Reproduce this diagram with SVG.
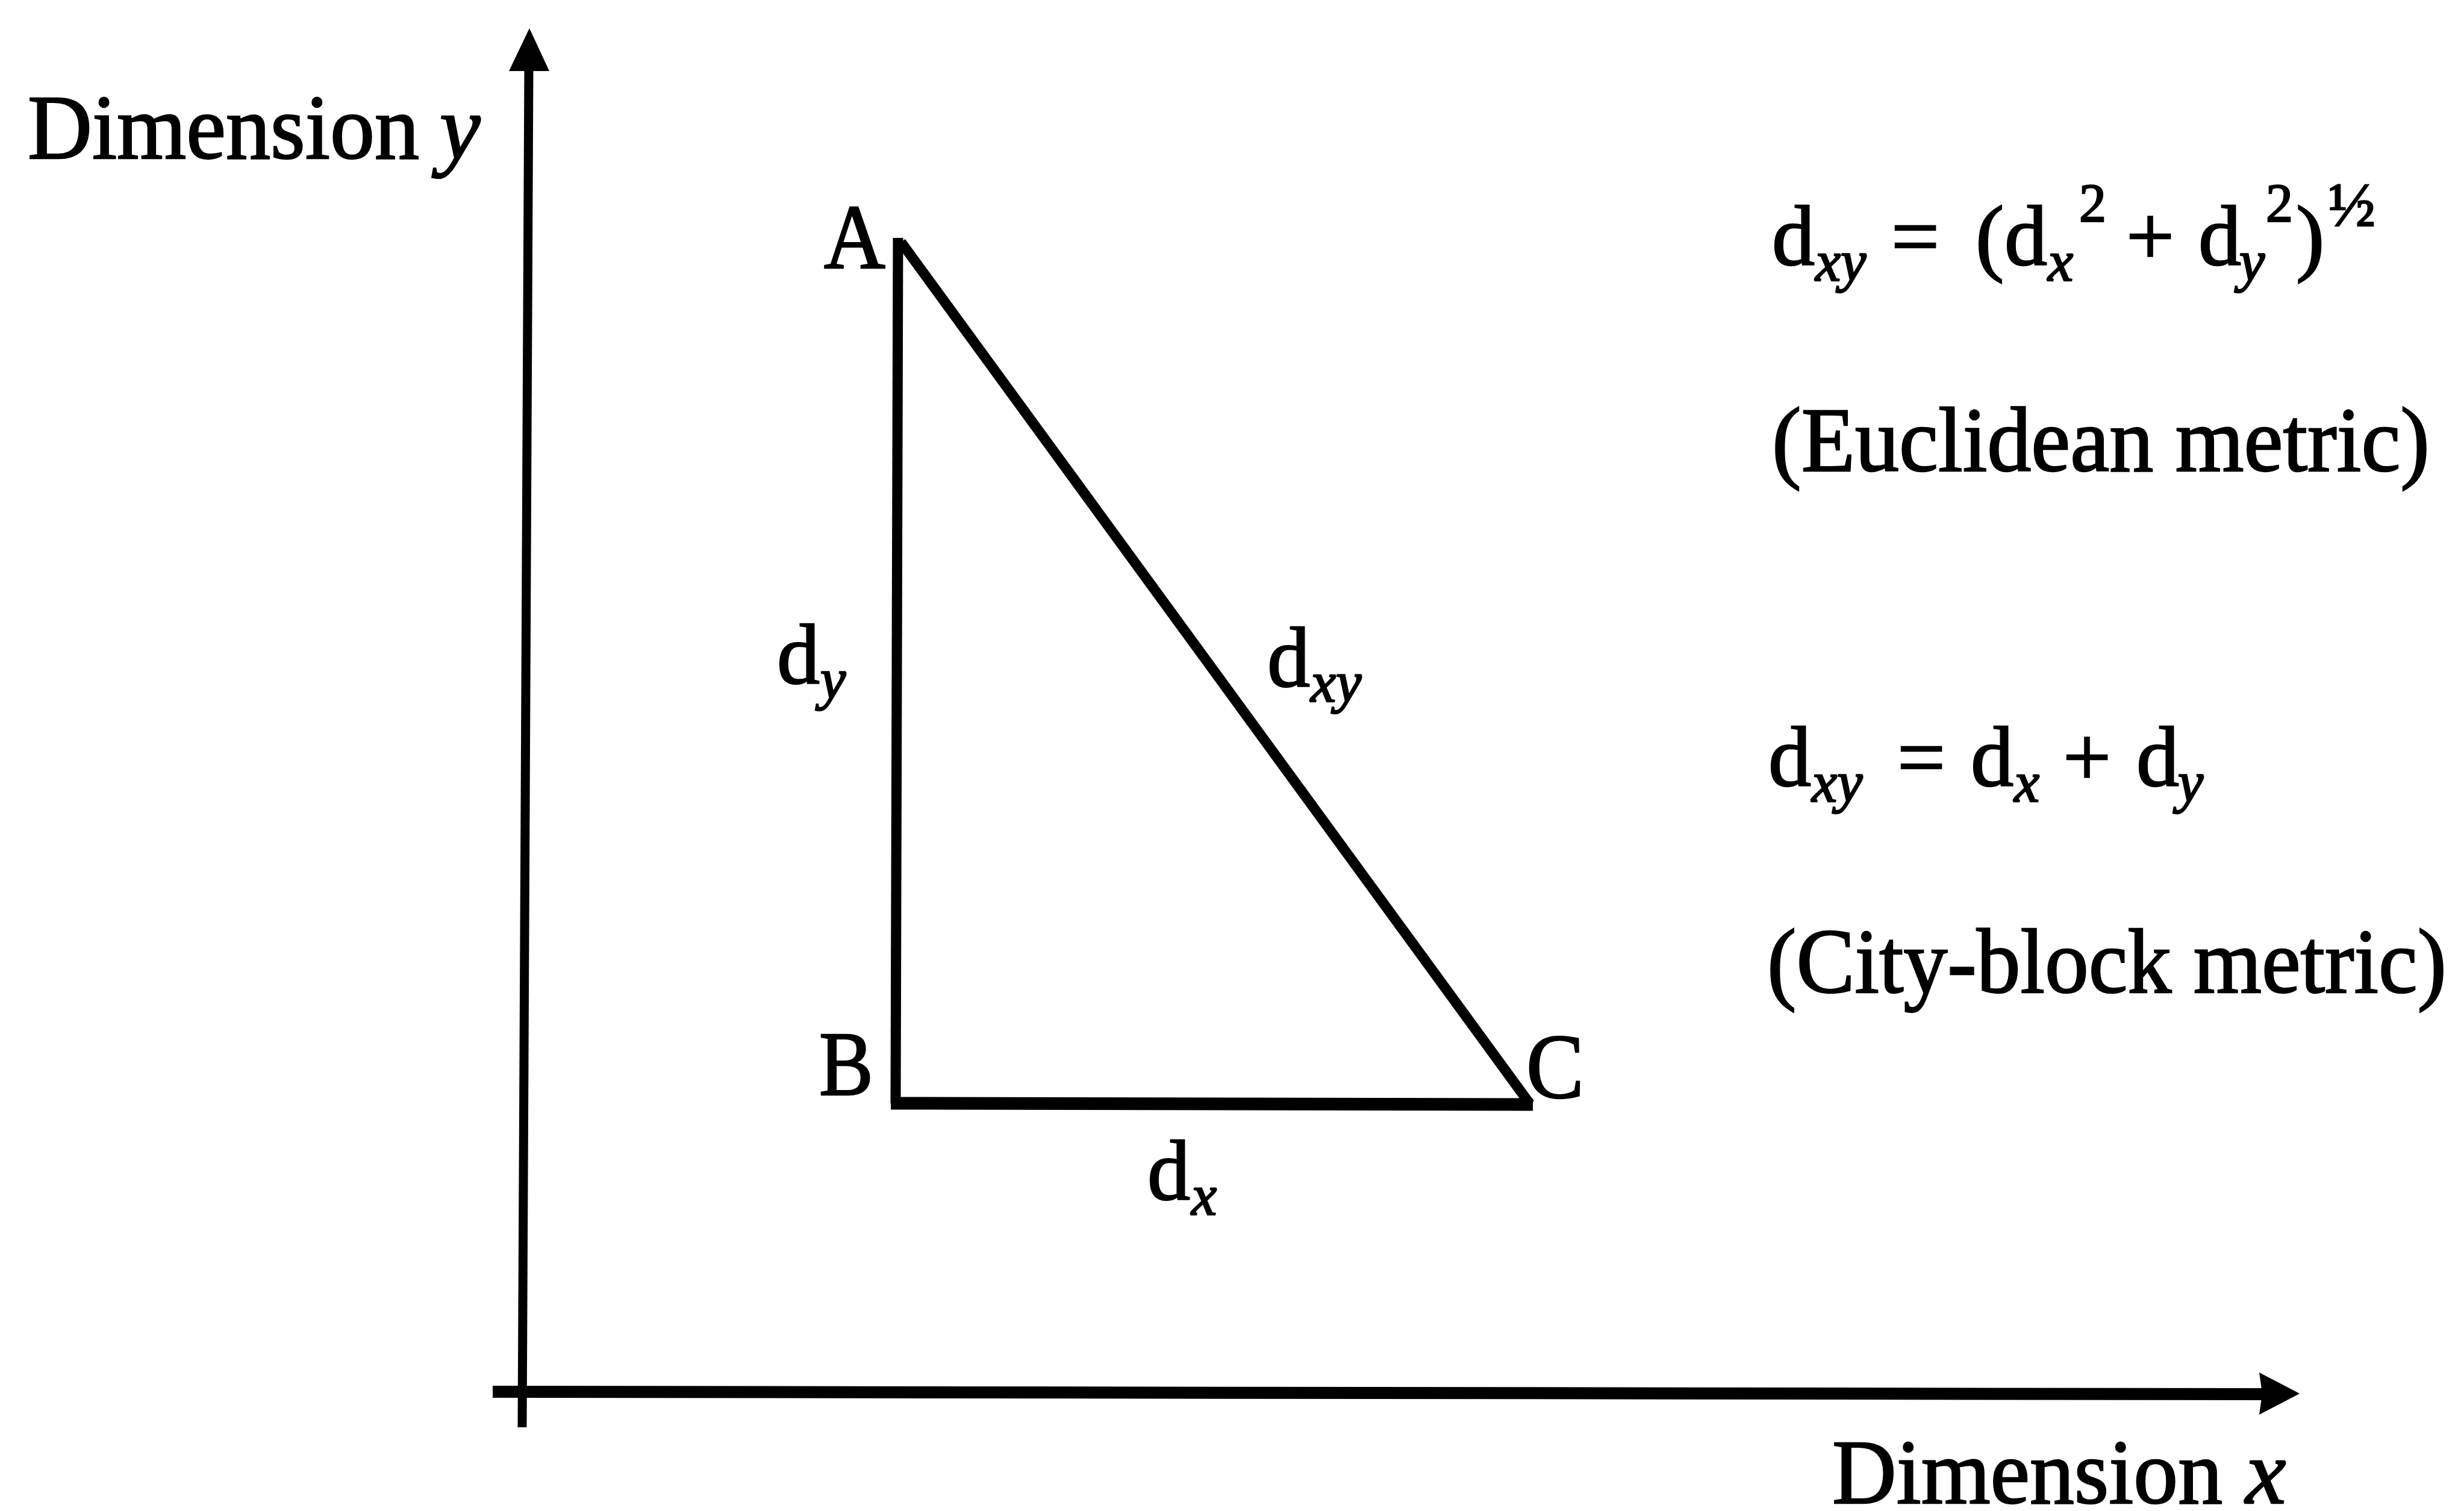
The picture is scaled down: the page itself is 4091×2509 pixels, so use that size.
<svg xmlns="http://www.w3.org/2000/svg" width="4091" height="2509" viewBox="0 0 4091 2509">
<style>
.t{font-family:"Liberation Serif","Times New Roman",serif;font-size:152px;fill:#000;stroke:#000;stroke-width:2.5}
.f{font-size:142px}
.i{font-style:italic}
.s{font-size:95px}
.p{font-size:90px}
.ln{stroke:#000;fill:none}
</style>
<rect width="4091" height="2509" fill="#fff"/>
<g id="axes">
<line class="ln" x1="867" y1="2370" x2="878" y2="110" stroke-width="15"/>
<polygon points="879,47 912,118 845,118" fill="#000"/>
<line class="ln" x1="818" y1="2311" x2="3760" y2="2315" stroke-width="20"/>
<polygon points="3818,2314 3751,2279 3756,2314 3751,2349" fill="#000"/>
</g>
<g id="connectors">
<line id="edge-AB" class="ln" x1="1491" y1="395" x2="1487" y2="1832" stroke-width="17"/>
<line id="edge-BC" class="ln" x1="1479" y1="1832" x2="2545" y2="1834" stroke-width="21"/>
<line id="edge-AC" class="ln" x1="1496" y1="402" x2="2540" y2="1833" stroke-width="17"/>
</g>
<g id="axis-y-label">
<text class="t" x="46" y="263" font-size="160" textLength="650" lengthAdjust="spacingAndGlyphs">Dimension</text>
<text class="t i" x="730" y="263" font-size="150">y</text>
</g>
<g id="axis-x-label">
<text class="t" x="3042" y="2496" font-size="160" textLength="648" lengthAdjust="spacingAndGlyphs">Dimension</text>
<text class="t i" x="3728" y="2496" font-size="150">x</text>
</g>
<g id="node-A"><text class="t" x="1368" y="445" font-size="162" textLength="102" lengthAdjust="spacingAndGlyphs">A</text></g>
<g id="node-B"><text class="t" x="1360" y="1818" font-size="162" textLength="90" lengthAdjust="spacingAndGlyphs">B</text></g>
<g id="node-C"><text class="t" x="2534" y="1823" font-size="162" textLength="96" lengthAdjust="spacingAndGlyphs">C</text></g>
<g id="label-dy"><text class="t f" x="1290" y="1135">d<tspan class="s i" x="1362" y="1160">y</tspan></text></g>
<g id="label-dxy"><text class="t f" x="2104" y="1140">d<tspan class="s i" x="2176" y="1165">xy</tspan></text></g>
<g id="label-dx"><text class="t f" x="1905" y="1992">d<tspan class="s i" x="1978" y="2017">x</tspan></text></g>
<g id="formula-euclid">
<text class="t f" x="2942" y="440">d<tspan class="s i" x="3014" y="466">xy</tspan><tspan x="3140" y="440">=</tspan><tspan x="3280" y="440">(</tspan><tspan x="3328" y="440">d</tspan><tspan class="s i" x="3400" y="466">x</tspan><tspan class="p" x="3452" y="368">2</tspan><tspan x="3530" y="440">+</tspan><tspan x="3650" y="440">d</tspan><tspan class="s i" x="3718" y="466">y</tspan><tspan class="p" x="3762" y="368">2</tspan><tspan x="3812" y="440">)</tspan><tspan x="3866" y="375" font-size="104">½</tspan></text>
<text class="t" x="2942" y="782" textLength="1092" lengthAdjust="spacingAndGlyphs">(Euclidean metric)</text>
</g>
<g id="formula-cityblock">
<text class="t f" x="2936" y="1305">d<tspan class="s i" x="3008" y="1331">xy</tspan><tspan x="3150" y="1305">=</tspan><tspan x="3272" y="1305">d</tspan><tspan class="s i" x="3344" y="1331">x</tspan><tspan x="3425" y="1305">+</tspan><tspan x="3547" y="1305">d</tspan><tspan class="s i" x="3616" y="1331">y</tspan></text>
<text class="t" x="2934" y="1648" textLength="1128" lengthAdjust="spacingAndGlyphs">(City-block metric)</text>
</g>
</svg>
